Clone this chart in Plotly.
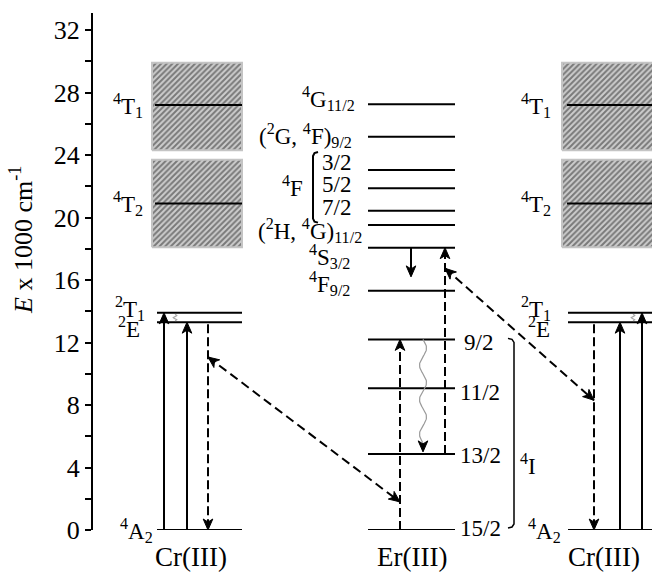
import numpy as np
import plotly.graph_objects as go

# ---------------- data (energies in units of 1000 cm^-1) ----------------
cr_level_labels = ["<sup>4</sup>A<sub>2</sub>", "<sup>2</sup>E", "<sup>2</sup>T<sub>1</sub>"]
cr_level_E = [0.0, 13.3, 13.9]

cr_band_labels = ["<sup>4</sup>T<sub>2</sub>", "<sup>4</sup>T<sub>1</sub>"]
cr_band_E = [20.9, 27.2]
cr_band_lo = [18.1, 24.3]
cr_band_hi = [23.7, 29.9]

er_level_E = [0.0, 4.86, 9.07, 12.2, 15.32, 18.07, 19.52, 20.44, 21.87, 23.04, 25.17, 27.25]
er_level_labels = ["15/2", "13/2", "11/2", "9/2",
                   "<sup>4</sup>F<sub>9/2</sub>", "<sup>4</sup>S<sub>3/2</sub>",
                   "(<sup>2</sup>H, <sup>4</sup>G)<sub>11/2</sub>",
                   "7/2", "5/2", "3/2",
                   "(<sup>2</sup>G, <sup>4</sup>F)<sub>9/2</sub>",
                   "<sup>4</sup>G<sub>11/2</sub>"]
multiplet_labels = ["<sup>4</sup>I", "<sup>4</sup>F"]
column_labels = ["Cr(III)", "Er(III)", "Cr(III)"]

y_tick_vals = list(range(0, 33, 4))
y_tick_text = [str(v) for v in y_tick_vals]

# transitions as (start E, end E)
cr_pump = [(0.0, 13.9), (0.0, 13.3)]      # absorption 4A2 -> 2T1, 2E
cr_emit = (13.3, 0.0)                    # 2E -> 4A2
er_dashed_up = [(0.0, 12.2), (4.86, 18.07)]
er_solid_down = (18.07, 16.2)
er_nonrad = (12.2, 5.0)                  # 4I9/2 -> 4I13/2 relaxation
transfer_left = (11.07, 1.8)             # Cr side E, Er side E
transfer_right = (16.75, 8.3)            # Er side E, Cr side E

# ---------------- geometry ----------------
W, H = 652, 581
MARGIN = dict(l=93, r=0, t=13, b=51, pad=0)
PLOT_W = W - MARGIN["l"] - MARGIN["r"]
PLOT_H = H - MARGIN["t"] - MARGIN["b"]
PX_PER_E = 500 / 32.0
Y_TOP = PLOT_H / PX_PER_E
FONT = "Liberation Serif"


def dE(px):
    """vertical pixel distance expressed in energy units"""
    return px / PX_PER_E


# x is measured in pixels from the energy axis
cr_cols = [
    dict(level=(64, 149), band=(59, 149), band_line=(62, 149),
         pump_x=[71, 94], emit_x=115, squiggle_x=82,
         lab_band=52, lab_T=54, lab_E=49, lab_A=62, cap_x=97.5),
    dict(level=(475, 575), band=(469, 575), band_line=(474, 575),
         pump_x=[549, 527], emit_x=501, squiggle_x=540,
         lab_band=460, lab_T=460, lab_E=459, lab_A=470, cap_x=511),
]
ER_LEVEL = (275, 362)
ER_CAP_X = 319

fig = go.Figure()
heads_x, heads_y = [], []


def add_lines(xs, ys, color="black", width=2, dash=None):
    fig.add_trace(go.Scatter(x=xs, y=ys, mode="lines", cliponaxis=False,
                             hoverinfo="skip", showlegend=False,
                             line=dict(color=color, width=width, dash=dash)))


def head(x_tip, y_tip, x_from, y_from, length=11.0, half=4.8, notch=3.0):
    """notched arrowhead polygon with its tip at (x_tip, y_tip)"""
    vx = x_tip - x_from
    vy = (y_tip - y_from) * PX_PER_E
    n = np.hypot(vx, vy)
    ux, uy = vx / n, vy / n          # unit direction (pixels, y up)
    px_, py_ = -uy, ux               # perpendicular
    pts = [(0, 0), (-length, half), (-length + notch, 0), (-length, -half), (0, 0)]
    for a, b in pts:
        heads_x.append(x_tip + a * ux + b * px_)
        heads_y.append(y_tip + dE(a * uy + b * py_))
    heads_x.append(None)
    heads_y.append(None)


def label(text, x, y, xanchor, yshift=0, size=23):
    fig.add_annotation(x=x, y=y, xref="x", yref="y", text=text, showarrow=False,
                       xanchor=xanchor, yanchor="middle", yshift=yshift,
                       font=dict(family=FONT, size=size, color="black"))


def wave(x0, e0, e1, amp, periods, color, width):
    t = np.linspace(0, 1, 120)
    xs = x0 + amp * np.sin(2 * np.pi * periods * t)
    ys = e0 + (e1 - e0) * t
    add_lines(list(xs), list(ys), color=color, width=width)


# ---------------- Cr(III) columns ----------------
for col in cr_cols:
    bx0, bx1 = col["band"]
    for lo, hi, e in zip(cr_band_lo, cr_band_hi, cr_band_E):
        fig.add_trace(go.Scatter(
            x=[bx0, bx1, bx1, bx0, bx0], y=[lo, lo, hi, hi, lo], mode="lines",
            fill="toself", fillcolor="#c8c8c8",
            fillpattern=dict(shape="/", fgcolor="#262626", bgcolor="#cdcdcd",
                             size=4, solidity=0.5),
            line=dict(color="#c4c4c4", width=2), hoverinfo="skip", showlegend=False))
        lx0, lx1 = col["band_line"]
        add_lines([lx0, lx1], [e, e])
    x0, x1 = col["level"]
    xs, ys = [], []
    for e in cr_level_E:
        xs += [x0, x1, None]
        ys += [e, e, None]
    add_lines(xs, ys)

    # absorption arrows
    for px, (e0, e1) in zip(col["pump_x"], cr_pump):
        add_lines([px, px], [e0, e1 - dE(6)])
        head(px, e1, px, e0)
    # emission
    ex = col["emit_x"]
    add_lines([ex, ex], [cr_emit[0] - dE(2), cr_emit[1] + dE(6)], dash="9px,4px")
    head(ex, cr_emit[1], ex, cr_emit[0])
    # 2T1 -> 2E relaxation
    wave(col["squiggle_x"], cr_level_E[2] - dE(1.5), cr_level_E[1] + dE(1.5), 1.8, 1.5, "#a8a8a8", 1.2)

    # labels
    for txt, e in zip(cr_band_labels, cr_band_E):
        label(txt, col["lab_band"], e, "right")
    label(cr_level_labels[2], col["lab_T"], cr_level_E[2], "right", yshift=4)
    label(cr_level_labels[1], col["lab_E"], cr_level_E[1], "right", yshift=-5)
    label(cr_level_labels[0], col["lab_A"], cr_level_E[0], "right")

# ---------------- Er(III) column ----------------
xs, ys = [], []
for e in er_level_E:
    xs += [ER_LEVEL[0], ER_LEVEL[1], None]
    ys += [e, e, None]
add_lines(xs, ys)

for px, (e0, e1) in zip([307, 352], er_dashed_up):
    add_lines([px, px], [e0, e1 - dE(6)], dash="9px,4px")
    head(px, e1, px, e0)
add_lines([318, 318], [er_solid_down[0], er_solid_down[1] + dE(6)])
head(318, er_solid_down[1], 318, er_solid_down[0])
wave(330, er_nonrad[0], er_nonrad[1] + dE(9), 3.5, 3, "#9a9a9a", 1.2)
head(330, er_nonrad[1], 330, er_nonrad[0])

# Er labels, left side
er_left = {4: (259, 7), 5: (259, -9), 6: (271, -5), 10: (261, 1), 11: (264, 6)}
for i, (xr, ysh) in er_left.items():
    label(er_level_labels[i], xr, er_level_E[i], "right", yshift=ysh)
# 4F manifold
for i, ysh in zip([7, 8, 9], [3, 4, 8]):
    label(er_level_labels[i], 260, er_level_E[i], "right", yshift=ysh)
label(multiplet_labels[1], 212, er_level_E[8], "right", yshift=2)
b_top = er_level_E[9] + dE(18)
b_bot = er_level_E[7] - dE(12)
add_lines([225, 221.5, 220, 220, 221.5, 225],
          [b_top, b_top - dE(1), b_top - dE(4), b_bot + dE(4), b_bot + dE(1), b_bot], width=2)

# Er labels, right side (4I manifold)
for i, (xl, ysh) in zip([0, 1, 2, 3], [(365, 2), (365, -1), (365, -4), (369, -3)]):
    label(er_level_labels[i], xl, er_level_E[i], "left", yshift=ysh)
i_top = er_level_E[3] + dE(1)
i_bot = er_level_E[0] + dE(2)
add_lines([415, 419, 421, 421, 419, 415],
          [i_top, i_top - dE(1), i_top - dE(4), i_bot + dE(4), i_bot + dE(1), i_bot], width=1.5)
label(multiplet_labels[0], 425, er_level_E[1], "left", yshift=-10)

# ---------------- energy-transfer arrows ----------------
cr_l, cr_r = cr_cols
add_lines([cr_l["emit_x"], 307], list(transfer_left), dash="9px,5px")
head(cr_l["emit_x"], transfer_left[0], 307, transfer_left[1])
head(307, transfer_left[1], cr_l["emit_x"], transfer_left[0])

add_lines([352, cr_r["emit_x"]], list(transfer_right), dash="9px,5px")
head(352, transfer_right[0], cr_r["emit_x"], transfer_right[1])
head(cr_r["emit_x"], transfer_right[1], 352, transfer_right[0])

# all arrowheads as filled polygons
fig.add_trace(go.Scatter(x=heads_x, y=heads_y, mode="lines", fill="toself",
                         fillcolor="black", line=dict(color="black", width=1),
                         cliponaxis=False, hoverinfo="skip", showlegend=False))

# ---------------- column captions and axis title ----------------
for txt, cx in zip(column_labels, [cr_l["cap_x"], ER_CAP_X, cr_r["cap_x"]]):
    label(txt, cx, 0, "center", yshift=-27, size=27)

TITLE_CENTER_PX = (22, 240)  # (x, y) in page pixels
fig.add_annotation(x=(TITLE_CENTER_PX[0] - MARGIN["l"]) / PLOT_W,
                   y=1 - (TITLE_CENTER_PX[1] - MARGIN["t"]) / PLOT_H,
                   xref="paper", yref="paper", showarrow=False,
                   text="<i>E</i> x 1000 cm<sup>-1</sup>", textangle=-90,
                   xanchor="center", yanchor="middle",
                   font=dict(family=FONT, size=26, color="black"))

fig.update_layout(
    width=W, height=H, margin=MARGIN,
    paper_bgcolor="white", plot_bgcolor="white",
    showlegend=False,
    xaxis=dict(range=[0, PLOT_W], visible=False, fixedrange=True),
    yaxis=dict(range=[0, Y_TOP], tickvals=y_tick_vals, ticktext=y_tick_text,
               ticks="outside", ticklen=6, tickwidth=2, tickcolor="black",
               minor=dict(dtick=2, tick0=0, ticks="outside", ticklen=6,
                          tickwidth=2, tickcolor="black", showgrid=False),
               showline=True, linewidth=2, linecolor="black",
               showgrid=False, zeroline=False, fixedrange=True,
               tickfont=dict(family=FONT, size=26, color="black")),
)

fig.write_html("out.html")
